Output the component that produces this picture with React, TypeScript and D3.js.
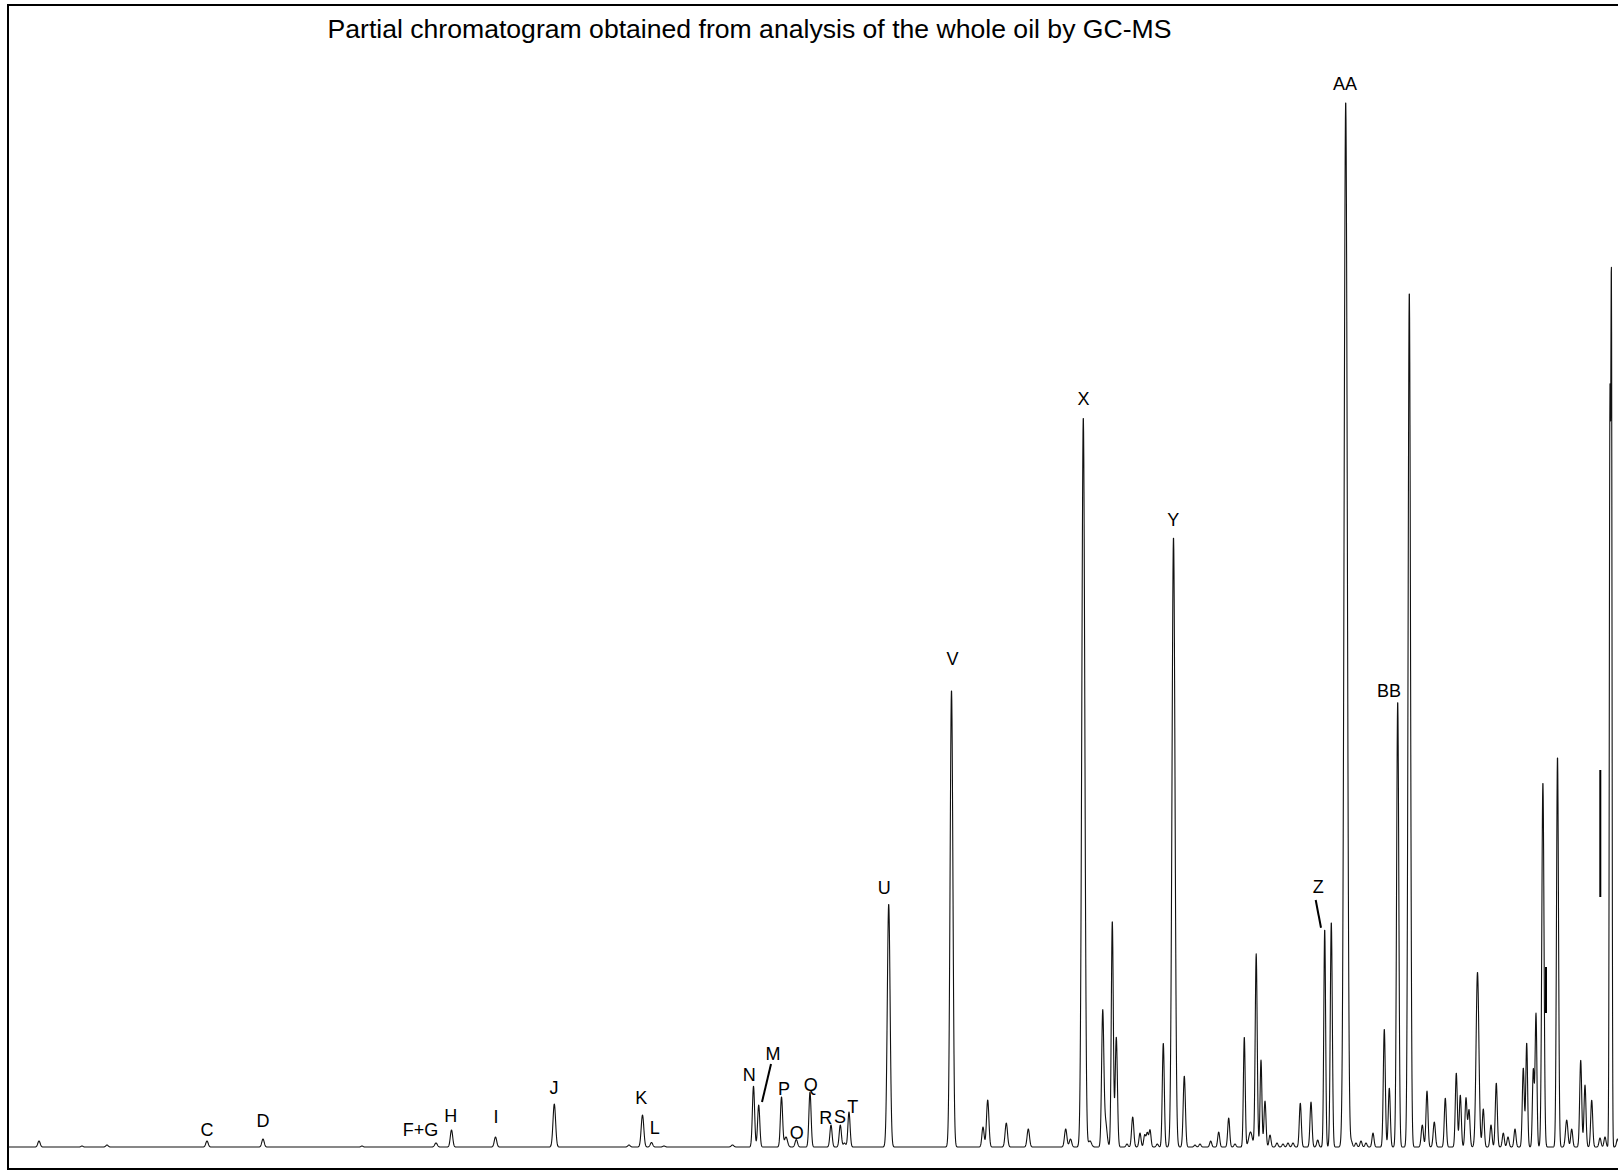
import * as d3 from "d3";
import { useEffect, useRef } from "react";

// peak table: scan number, abundance (arbitrary units), peak sigma (scans)
const peakScan = [
  31, 74, 99, 199, 255, 354, 428, 443.5, 487.5, 546.3, 621, 634.5, 643.5, 656, 724.5,
  745.5, 750.7, 773.5, 778, 788.3, 802, 823, 832.3, 836.5, 841, 880.7, 943.5,
  975, 979.7, 998.3, 1020.3, 1057.7, 1062.5, 1075.3, 1082, 1094.7, 1097.5, 1104.3, 1108.3,
  1119, 1124.7, 1132, 1136.7, 1139.3, 1142, 1149.3, 1155.3, 1165.5, 1176.3, 1187, 1192,
  1202.7, 1210.7, 1220.7, 1227, 1236.3, 1242.5, 1248.2, 1253, 1257, 1262, 1269, 1275,
  1280, 1285, 1292.3, 1303, 1309.7, 1316.7, 1323.3, 1337.7, 1343.5, 1348, 1353, 1358,
  1365, 1376.3, 1381.3, 1389.7, 1401.3, 1414.3, 1419, 1426.3, 1437.3, 1448.3, 1452.3,
  1458, 1461, 1469.5, 1475.3, 1483, 1488.3, 1495.3, 1500, 1507, 1515.3, 1518.7, 1525.3,
  1528, 1534.9, 1549.5, 1558.7, 1563.7, 1572.7, 1577, 1583.7, 1592, 1597, 1601.9, 1603.4,
  1609.5,
];
const peakHeight = [
  6, 1, 2, 6, 8, 1, 4, 17, 10, 43, 2, 32, 4.5, 1, 2,
  61, 42, 50, 10, 7.5, 55, 22, 22, 4, 35, 243, 457,
  20, 47, 24, 18, 18, 8, 730, 6, 133, 25, 226, 110,
  3, 30, 14, 12, 14, 17, 3, 104, 610, 71, 2, 3,
  6, 15, 29, 3, 110, 15, 193, 87, 46, 12, 4, 3,
  4, 4, 44, 45, 7, 218, 225, 1046, 5, 4, 6, 4,
  14, 118, 59, 446, 856, 22, 56, 25, 49, 74, 52,
  49, 37, 175, 38, 22, 64, 14, 10, 18, 79, 104, 77,
  133, 365, 391, 27, 18, 87, 62, 47, 9, 10, 712, 845,
  8,
];
const peakSigma = [
  1.2, 1, 1.2, 1.2, 1.2, 1, 1.3, 1.2, 1.2, 1.3, 1.2, 1.3, 1.2, 1.2, 1.3,
  1.1, 1.1, 1.1, 1.5, 1.2, 1.1, 1.1, 1.1, 1.2, 1.1, 1.4, 1.4,
  1.1, 1.2, 1.2, 1.2, 1.2, 1.2, 1.5, 1.5, 1.1, 1.5, 1.0, 1.1,
  1, 1.1, 1.0, 1.0, 1.0, 1.0, 1.0, 1.0, 1.5, 1.1, 1, 1,
  1.0, 1.0, 1.0, 1, 0.9, 1.8, 1.0, 0.9, 1.0, 1.0, 1, 1,
  1, 1, 1.0, 1.0, 1.0, 0.9, 1.0, 1.6, 1, 1, 1, 1,
  1, 1.0, 1.0, 1.1, 1.2, 1.1, 1.0, 1.1, 1.0, 1.0, 1.0,
  1.0, 1.0, 1.4, 1.0, 1.0, 1.0, 1.0, 1, 1.0, 1.0, 0.9, 0.9,
  0.9, 1.1, 1.0, 1.2, 1.0, 1.0, 1.0, 1.0, 1, 1, 0.61, 0.61,
  1,
];

// compound labels: name, scan position, abundance of the text baseline
const labelNames = ["C", "D", "F+G", "H", "I", "J", "K", "L", "N", "M", "P", "O", "Q", "R", "S", "T", "U", "V", "X", "Y", "Z", "AA", "BB"];
const labelScan = [199, 255, 412.5, 442.7, 488, 546, 633.3, 646.7, 741.3, 765, 776, 788.7, 802.7, 817.7, 832, 844.7, 876.3, 944.4, 1075.5, 1165.3, 1310.3, 1337, 1381];
const labelLevel = [11.5, 20, 11, 25.5, 24.5, 53, 43, 13, 66.5, 87.5, 52, 8, 56, 23, 24, 34.5, 253, 482, 742, 621.5, 254, 1057, 450];

// leader lines [scan1, level1, scan2, level2]
const leaders = [
  [763, 83, 754, 45],
  [1307.7, 247, 1313, 219.3],
  [1538, 180, 1538, 134],
  [1592.3, 377, 1592.3, 250],
];

const title = "Partial chromatogram obtained from analysis of the whole oil by GC-MS";

export default function App() {
  const ref = useRef(null);

  useEffect(() => {
    const svg = d3.select(ref.current);
    svg.selectAll("*").remove();

    const width = 1618;

    const x = d3.scaleLinear().domain([0, 1610]).range([8, 1618]);
    const y = d3.scaleLinear().domain([0, 1046]).range([1147, 101]);

    // build the trace from the peak table
    const trace = [];
    for (let s = 0; s <= 1612; s += 0.2) {
      let v = 0;
      for (let i = 0; i < peakScan.length; i++) {
        const d = s - peakScan[i];
        const sg = peakSigma[i];
        if (Math.abs(d) > 7 * sg) continue;
        v += peakHeight[i] * Math.exp(-(d * d) / (2 * sg * sg));
      }
      trace.push([s, v]);
    }

    svg.append("rect")
      .attr("x", 8)
      .attr("y", 5)
      .attr("width", width + 20)
      .attr("height", 1164)
      .attr("fill", "none")
      .attr("stroke", "#000")
      .attr("stroke-width", 2);

    svg.append("text")
      .attr("x", 749.5)
      .attr("y", 38)
      .attr("text-anchor", "middle")
      .attr("font-family", "'Liberation Sans', Arial, sans-serif")
      .attr("font-size", 26.6)
      .text(title);

    const line = d3
      .line()
      .x((d) => x(d[0]))
      .y((d) => y(d[1]));

    svg.append("path")
      .datum(trace)
      .attr("fill", "none")
      .attr("stroke", "#111")
      .attr("stroke-width", 1.1)
      .attr("stroke-linejoin", "round")
      .attr("d", line);

    svg.selectAll("line.leader")
      .data(leaders)
      .join("line")
      .attr("class", "leader")
      .attr("x1", (d) => x(d[0]))
      .attr("y1", (d) => y(d[1]))
      .attr("x2", (d) => x(d[2]))
      .attr("y2", (d) => y(d[3]))
      .attr("stroke", "#000")
      .attr("stroke-width", 2);

    svg.selectAll("text.peak")
      .data(labelNames)
      .join("text")
      .attr("class", "peak")
      .attr("x", (d, i) => x(labelScan[i]))
      .attr("y", (d, i) => y(labelLevel[i]))
      .attr("text-anchor", "middle")
      .attr("font-family", "'Liberation Sans', Arial, sans-serif")
      .attr("font-size", 18)
      .text((d) => d);
  }, []);

  return (
    <svg
      ref={ref}
      width={1618}
      height={1171}
      style={{ position: "absolute", left: 0, top: 0, background: "#fff" }}
    ></svg>
  );
}
